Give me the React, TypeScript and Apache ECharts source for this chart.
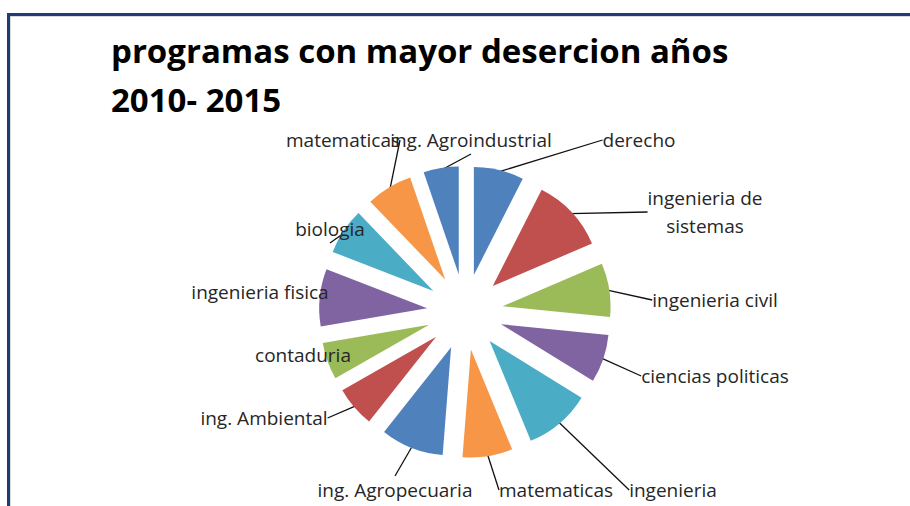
import React, { useEffect, useRef } from "react";
import * as echarts from "echarts";

const categories = [
  "derecho",
  "ingenieria de sistemas",
  "ingenieria civil",
  "ciencias politicas",
  "ingenieria",
  "matematicas",
  "ing. Agropecuaria",
  "ing. Ambiental",
  "contaduria",
  "ingenieria fisica",
  "biologia",
  "matematicas",
  "ing. Agroindustrial",
];
const values = [27, 40, 29, 26, 36, 27, 34, 22, 20, 31, 25, 25, 19];
const palette = ["#4F81BD", "#C0504D", "#9BBB59", "#8064A2", "#4BACC6", "#F79646"];
const titleLines = ["programas con mayor desercion años", "2010- 2015"];

// label centre positions (layout only)
const labelCenters: [number, number][] = [
  [639, 140],
  [705, 212],
  [715, 300],
  [715, 376],
  [673, 490],
  [556, 490],
  [395, 490],
  [264, 418],
  [303, 355],
  [260, 292],
  [330, 229],
  [343, 140],
  [471, 140],
];

export default function App() {
  const ref = useRef<HTMLDivElement>(null);
  useEffect(() => {
    if (!ref.current) return;
    const chart = echarts.init(ref.current, null, { renderer: "svg" });
    const sliceData = categories.map((name, i) => {
      const color = palette[i % palette.length];
      return {
        name,
        value: values[i],
        selected: true,
        itemStyle: { color },
        select: { itemStyle: { color } },
      };
    });
    const labelData = categories.map((name, i) => {
      const item: any = { name, value: values[i] };
      if (name === "ingenieria de sistemas") {
        item.label = { formatter: "ingenieria de\nsistemas" };
      }
      return item;
    });
    chart.setOption({
      animation: false,
      backgroundColor: "#ffffff",
      title: {
        text: titleLines.join("\n"),
        left: 106,
        top: 21,
        textStyle: {
          fontFamily: "Open Sans",
          fontWeight: "bold",
          fontSize: 33,
          lineHeight: 49,
          color: "#000000",
        },
      },
      graphic: [
        {
          type: "rect",
          shape: { x: 10, y: 16, width: 1000, height: 600 },
          style: { fill: "none", stroke: "#B4B4B4", lineWidth: 1 },
          silent: true,
        },
        {
          type: "rect",
          shape: { x: 8.5, y: 14.5, width: 1000, height: 600 },
          style: { fill: "none", stroke: "#1F3B78", lineWidth: 3 },
          silent: true,
        },
      ],
      series: [
        {
          type: "pie",
          center: [465, 312],
          radius: [0, 108],
          startAngle: 90,
          clockwise: true,
          selectedMode: "multiple",
          selectedOffset: 38,
          label: { show: false },
          labelLine: { show: false },
          emphasis: { disabled: true },
          silent: true,
          data: sliceData,
        },
        {
          type: "pie",
          center: [465, 312],
          radius: [0, 144],
          startAngle: 90,
          clockwise: true,
          silent: true,
          avoidLabelOverlap: false,
          itemStyle: { color: "rgba(0,0,0,0)" },
          label: {
            show: true,
            position: "outside",
            fontFamily: "Open Sans",
            fontSize: 19,
            color: "#262626",
            lineHeight: 28,
            align: "center",
          },
          labelLine: {
            show: true,
            length: 10,
            length2: 0,
            lineStyle: { color: "#111111", width: 1.3 },
          },
          labelLayout: (p: any) => {
            const c = labelCenters[p.dataIndex];
            return {
              x: c[0],
              y: c[1],
              align: "center",
              verticalAlign: "middle",
              hideOverlap: false,
            };
          },
          emphasis: { disabled: true },
          data: labelData,
        },
      ],
    });
    return () => chart.dispose();
  }, []);
  return (
    <div
      ref={ref}
      style={{ position: "absolute", left: 0, top: 0, width: 910, height: 506 }}
    />
  );
}
